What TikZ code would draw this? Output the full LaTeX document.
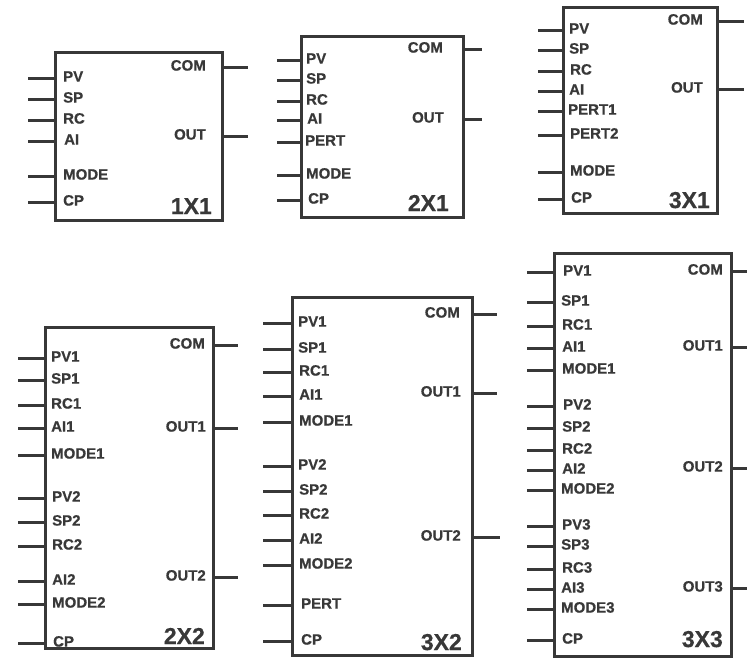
\documentclass[tikz,border=0pt]{standalone}
\usepackage{fontspec}
\setmainfont{Liberation Sans}[BoldFeatures={FakeBold=0.6}]
\usetikzlibrary{calc}
\definecolor{ink}{HTML}{383838}
\tikzset{
  blk/.style={draw=ink, line width=3pt, rectangle, inner sep=0pt, outer sep=0pt, anchor=north west, fill=white},
  pinline/.style={draw=ink, line width=3pt},
  lbl/.style={inner sep=0pt, text=ink, font=\fontsize{15}{15}\selectfont\bfseries, text height=0.72em, text depth=0pt},
  big/.style={inner sep=0pt, text=ink, font=\fontsize{23}{23}\selectfont\bfseries, anchor=base east}
}
% #1 box, #2 y, #3 label, #4 stub length, #5 text gap
\newcommand\inpin[5]{%
  \coordinate (#1-#3-y) at (0,#2);
  \node[lbl, anchor=west] (#1-#3) at ($(#1.west |- #1-#3-y)+(#5,0)$) {#3};
  \draw[pinline] (#1.west |- #1-#3-y) -- ++(-#4,0) coordinate (#1-#3-end);}
\newcommand\outpin[5]{%
  \coordinate (#1-#3-y) at (0,#2);
  \node[lbl, anchor=east] (#1-#3) at ($(#1.east |- #1-#3-y)+(-#5,0)$) {#3};
  \draw[pinline] (#1.east |- #1-#3-y) -- ++(#4,0) coordinate (#1-#3-end);}
\begin{document}
\begin{tikzpicture}[x=1pt,y=-1pt]
\useasboundingbox (0,0) rectangle (747,659);

% ---------- 1X1 ----------
\node[blk, minimum width=167pt, minimum height=168pt] (b1) at (55,52) {};
\inpin{b1}{78}{PV}{27}{8}
\inpin{b1}{99}{SP}{27}{8}
\inpin{b1}{120}{RC}{27}{8}
\inpin{b1}{141}{AI}{27}{9}
\inpin{b1}{176}{MODE}{27}{8}
\inpin{b1}{202}{CP}{27}{8}
\outpin{b1}{67}{COM}{26}{16}
\outpin{b1}{136}{OUT}{26}{16}
\node[big] (t1) at ($(b1.south east)+(-10,-6)$) {1X1};

% ---------- 2X1 ----------
\node[blk, minimum width=162pt, minimum height=181pt] (b2) at (301,36) {};
\inpin{b2}{60}{PV}{24}{5}
\inpin{b2}{80}{SP}{24}{5}
\inpin{b2}{101}{RC}{24}{5}
\inpin{b2}{120}{AI}{24}{6}
\inpin{b2}{142}{PERT}{24}{4}
\inpin{b2}{175}{MODE}{24}{5}
\inpin{b2}{200}{CP}{24}{7}
\outpin{b2}{49}{COM}{19}{20}
\outpin{b2}{119}{OUT}{19}{19}
\node[big] (t2) at ($(b2.south east)+(-14,-6)$) {2X1};

% ---------- 3X1 ----------
\node[blk, minimum width=154pt, minimum height=206pt] (b3) at (563,7) {};
\inpin{b3}{30}{PV}{25}{6}
\inpin{b3}{50}{SP}{25}{6}
\inpin{b3}{71}{RC}{25}{7}
\inpin{b3}{91}{AI}{25}{6}
\inpin{b3}{111}{PERT1}{25}{5}
\inpin{b3}{135}{PERT2}{25}{7}
\inpin{b3}{172}{MODE}{25}{7}
\inpin{b3}{199}{CP}{25}{8}
\outpin{b3}{21}{COM}{27}{14}
\outpin{b3}{89}{OUT}{27}{14}
\node[big] (t3) at ($(b3.south east)+(-7,-5)$) {3X1};

% ---------- 2X2 ----------
\node[blk, minimum width=168pt, minimum height=321pt] (b4) at (45,327) {};
\inpin{b4}{358}{PV1}{27}{6}
\inpin{b4}{380}{SP1}{27}{6}
\inpin{b4}{405}{RC1}{27}{6}
\inpin{b4}{428}{AI1}{27}{6}
\inpin{b4}{455}{MODE1}{27}{6}
\inpin{b4}{498}{PV2}{27}{7}
\inpin{b4}{522}{SP2}{27}{7}
\inpin{b4}{546}{RC2}{27}{7}
\inpin{b4}{581}{AI2}{27}{7}
\inpin{b4}{604}{MODE2}{27}{7}
\inpin{b4}{643}{CP}{27}{8}
\outpin{b4}{345}{COM}{25}{8}
\outpin{b4}{428}{OUT1}{25}{7}
\outpin{b4}{577}{OUT2}{25}{7}
\node[big] (t4) at ($(b4.south east)+(-8,-4)$) {2X2};

% ---------- 3X2 ----------
\node[blk, minimum width=180pt, minimum height=358pt] (b5) at (292,297) {};
\inpin{b5}{323}{PV1}{29}{6}
\inpin{b5}{349}{SP1}{29}{6}
\inpin{b5}{372}{RC1}{29}{7}
\inpin{b5}{396}{AI1}{29}{7}
\inpin{b5}{422}{MODE1}{29}{7}
\inpin{b5}{466}{PV2}{29}{6}
\inpin{b5}{491}{SP2}{29}{7}
\inpin{b5}{515}{RC2}{29}{7}
\inpin{b5}{540}{AI2}{29}{7}
\inpin{b5}{565}{MODE2}{29}{7}
\inpin{b5}{605}{PERT}{29}{9}
\inpin{b5}{641}{CP}{29}{9}
\outpin{b5}{314}{COM}{25}{12}
\outpin{b5}{393}{OUT1}{25}{11}
\outpin{b5}{537}{OUT2}{28}{11}
\node[big] (t5) at ($(b5.south east)+(-10,-5)$) {3X2};

% ---------- 3X3 ----------
\node[blk, minimum width=177pt, minimum height=403pt] (b6) at (554,253) {};
\inpin{b6}{272}{PV1}{27}{9}
\inpin{b6}{302}{SP1}{27}{7}
\inpin{b6}{326}{RC1}{27}{8}
\inpin{b6}{348}{AI1}{27}{8}
\inpin{b6}{370}{MODE1}{27}{8}
\inpin{b6}{406}{PV2}{27}{9}
\inpin{b6}{428}{SP2}{27}{8}
\inpin{b6}{450}{RC2}{27}{8}
\inpin{b6}{470}{AI2}{27}{8}
\inpin{b6}{490}{MODE2}{27}{7}
\inpin{b6}{526}{PV3}{27}{8}
\inpin{b6}{546}{SP3}{27}{7}
\inpin{b6}{569}{RC3}{27}{8}
\inpin{b6}{589}{AI3}{27}{7}
\inpin{b6}{609}{MODE3}{27}{7}
\inpin{b6}{640}{CP}{27}{8}
\outpin{b6}{271}{COM}{16}{8}
\outpin{b6}{347}{OUT1}{16}{8}
\outpin{b6}{468}{OUT2}{16}{8}
\outpin{b6}{588}{OUT3}{16}{8}
\node[big] (t6) at ($(b6.south east)+(-8,-9)$) {3X3};
\end{tikzpicture}
\end{document}
